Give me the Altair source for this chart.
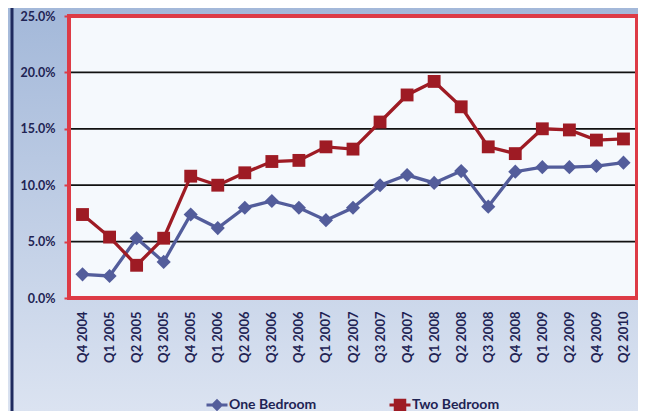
import altair as alt
import pandas as pd

quarters = ["Q4 2004", "Q1 2005", "Q2 2005", "Q3 2005", "Q4 2005", "Q1 2006",
            "Q2 2006", "Q3 2006", "Q4 2006", "Q1 2007", "Q2 2007", "Q3 2007",
            "Q4 2007", "Q1 2008", "Q2 2008", "Q3 2008", "Q4 2008", "Q1 2009",
            "Q2 2009", "Q4 2009", "Q2 2010"]
one_bedroom = [2.1, 1.95, 5.3, 3.2, 7.4, 6.2, 8.0, 8.6, 8.0, 6.9, 8.0, 10.0,
               10.9, 10.2, 11.25, 8.1, 11.2, 11.6, 11.6, 11.7, 12.0]
two_bedroom = [7.4, 5.4, 2.9, 5.3, 10.8, 10.0, 11.1, 12.1, 12.2, 13.4, 13.2, 15.6,
               18.0, 19.2, 16.95, 13.4, 12.8, 15.0, 14.9, 14.0, 14.1]
y_ticks = [0, 5, 10, 15, 20, 25]
grid_values = [5, 10, 15, 20]
series_names = ["One Bedroom", "Two Bedroom"]

W, H = 568, 282
PAD_L, PAD_T, PAD_R, PAD_B = 61, 8, 1, 113
NAVY = "#1f2454"
RED_BORDER = "#dd3b46"
series_colors = ["#535d9b", "#9e1b24"]

rows = []
for q, a, b in zip(quarters, one_bedroom, two_bedroom):
    rows.append({"quarter": q, "series": series_names[0], "value": a / 100})
    rows.append({"quarter": q, "series": series_names[1], "value": b / 100})
df = pd.DataFrame(rows)
grid_df = pd.DataFrame({"value": [v / 100 for v in grid_values]})
one = pd.DataFrame({"k": [0]})

x_enc = alt.X("quarter:N", sort=quarters,
              scale=alt.Scale(type="point", padding=0.5),
              axis=alt.Axis(title=None, labelAngle=-90, ticks=False, tickSize=0,
                            domain=False, labelPadding=13, labelFont="Lato",
                            labelFontSize=13, labelFontWeight="bold",
                            labelColor=NAVY, labelOverlap=False, zindex=1))
y_scale = alt.Scale(domain=[0, 0.25], nice=False, zero=True)
y_axis = alt.Axis(title=None, values=[v / 100 for v in y_ticks],
                  format=".1%", grid=False, domain=False,
                  tickColor=RED_BORDER, tickWidth=2, tickSize=5,
                  labelPadding=9, labelFont="Lato", labelFontSize=12.5,
                  labelFontWeight="bold", labelColor=NAVY,
                  labelFlush=False, zindex=1)
y_enc = alt.Y("value:Q", scale=y_scale, axis=y_axis)

bg = alt.Chart(one).mark_rect(
    color=alt.Gradient(gradient="linear", x1=0, y1=0, x2=0, y2=1,
                       stops=[alt.GradientStop(color="#a3b8d9", offset=0),
                              alt.GradientStop(color="#dbe3f1", offset=1)])
).encode(x=alt.value(-PAD_L), x2=alt.value(W + PAD_R),
         y=alt.value(-PAD_T), y2=alt.value(H + PAD_B))

left_bar = alt.Chart(one).mark_rule(color="#1f2a5e", strokeWidth=3).encode(
    x=alt.value(-57), y=alt.value(-PAD_T), y2=alt.value(H + PAD_B))

plot_fill = alt.Chart(one).mark_rect(color="#f5f9fd").encode(
    x=alt.value(0), x2=alt.value(W), y=alt.value(0), y2=alt.value(H))

grid = alt.Chart(grid_df).mark_rule(color="#111111", strokeWidth=1.8).encode(
    y=y_enc, x=alt.value(0), x2=alt.value(W))

border = alt.Chart(one).mark_rect(fillOpacity=0, stroke=RED_BORDER, strokeWidth=4).encode(
    x=alt.value(0), x2=alt.value(W), y=alt.value(0), y2=alt.value(H))

lines = alt.Chart(df).mark_line(strokeWidth=3.3).encode(
    x=x_enc, y=y_enc,
    color=alt.Color("series:N", sort=series_names,
                    scale=alt.Scale(domain=series_names, range=series_colors),
                    legend=None))

points = alt.Chart(df).mark_point(filled=True, opacity=1).encode(
    x=x_enc, y=y_enc,
    color=alt.Color("series:N", sort=series_names,
                    scale=alt.Scale(domain=series_names, range=series_colors),
                    legend=None),
    shape=alt.Shape("series:N", sort=series_names,
                    scale=alt.Scale(domain=series_names, range=["diamond", "square"]),
                    legend=None),
    size=alt.Size("series:N", sort=series_names,
                  scale=alt.Scale(domain=series_names, range=[200, 165]),
                  legend=None))

path_one = "M-2.1,-0.3L2.1,-0.3L2.1,0.3L-2.1,0.3Z M0,-1.25L1.25,0L0,1.25L-1.25,0Z"
path_two = "M-2.1,-0.3L2.1,-0.3L2.1,0.3L-2.1,0.3Z M-1.25,-1.25L1.25,-1.25L1.25,1.25L-1.25,1.25Z"

legend_layer = alt.Chart(df).mark_point(filled=True, opacity=1, clip=True, size=100).encode(
    x=alt.value(-300), y=alt.value(-300),
    color=alt.Color("series:N", sort=series_names,
                    scale=alt.Scale(domain=series_names, range=series_colors),
                    legend=alt.Legend(title=None, orient="none", direction="horizontal",
                                      legendX=141, legendY=382,
                                      labelFont="Lato", labelFontSize=14,
                                      labelFontWeight="bold", labelColor=NAVY,
                                      symbolSize=100, symbolStrokeWidth=0,
                                      labelOffset=5, columnPadding=72,
                                      zindex=1)),
    shape=alt.Shape("series:N", sort=series_names,
                    scale=alt.Scale(domain=series_names, range=[path_one, path_two])))

chart = alt.layer(bg, left_bar, plot_fill, grid, border, lines, points, legend_layer).resolve_scale(
    color="independent", shape="independent"
).properties(
    width=W, height=H,
    autosize=alt.AutoSizeParams(type="none"),
    padding={"left": PAD_L, "top": PAD_T, "right": PAD_R, "bottom": PAD_B},
    background="#c3d1e8",
).configure_view(stroke=None)

chart.save("out.html", embed_options={"renderer": "svg", "actions": False})
